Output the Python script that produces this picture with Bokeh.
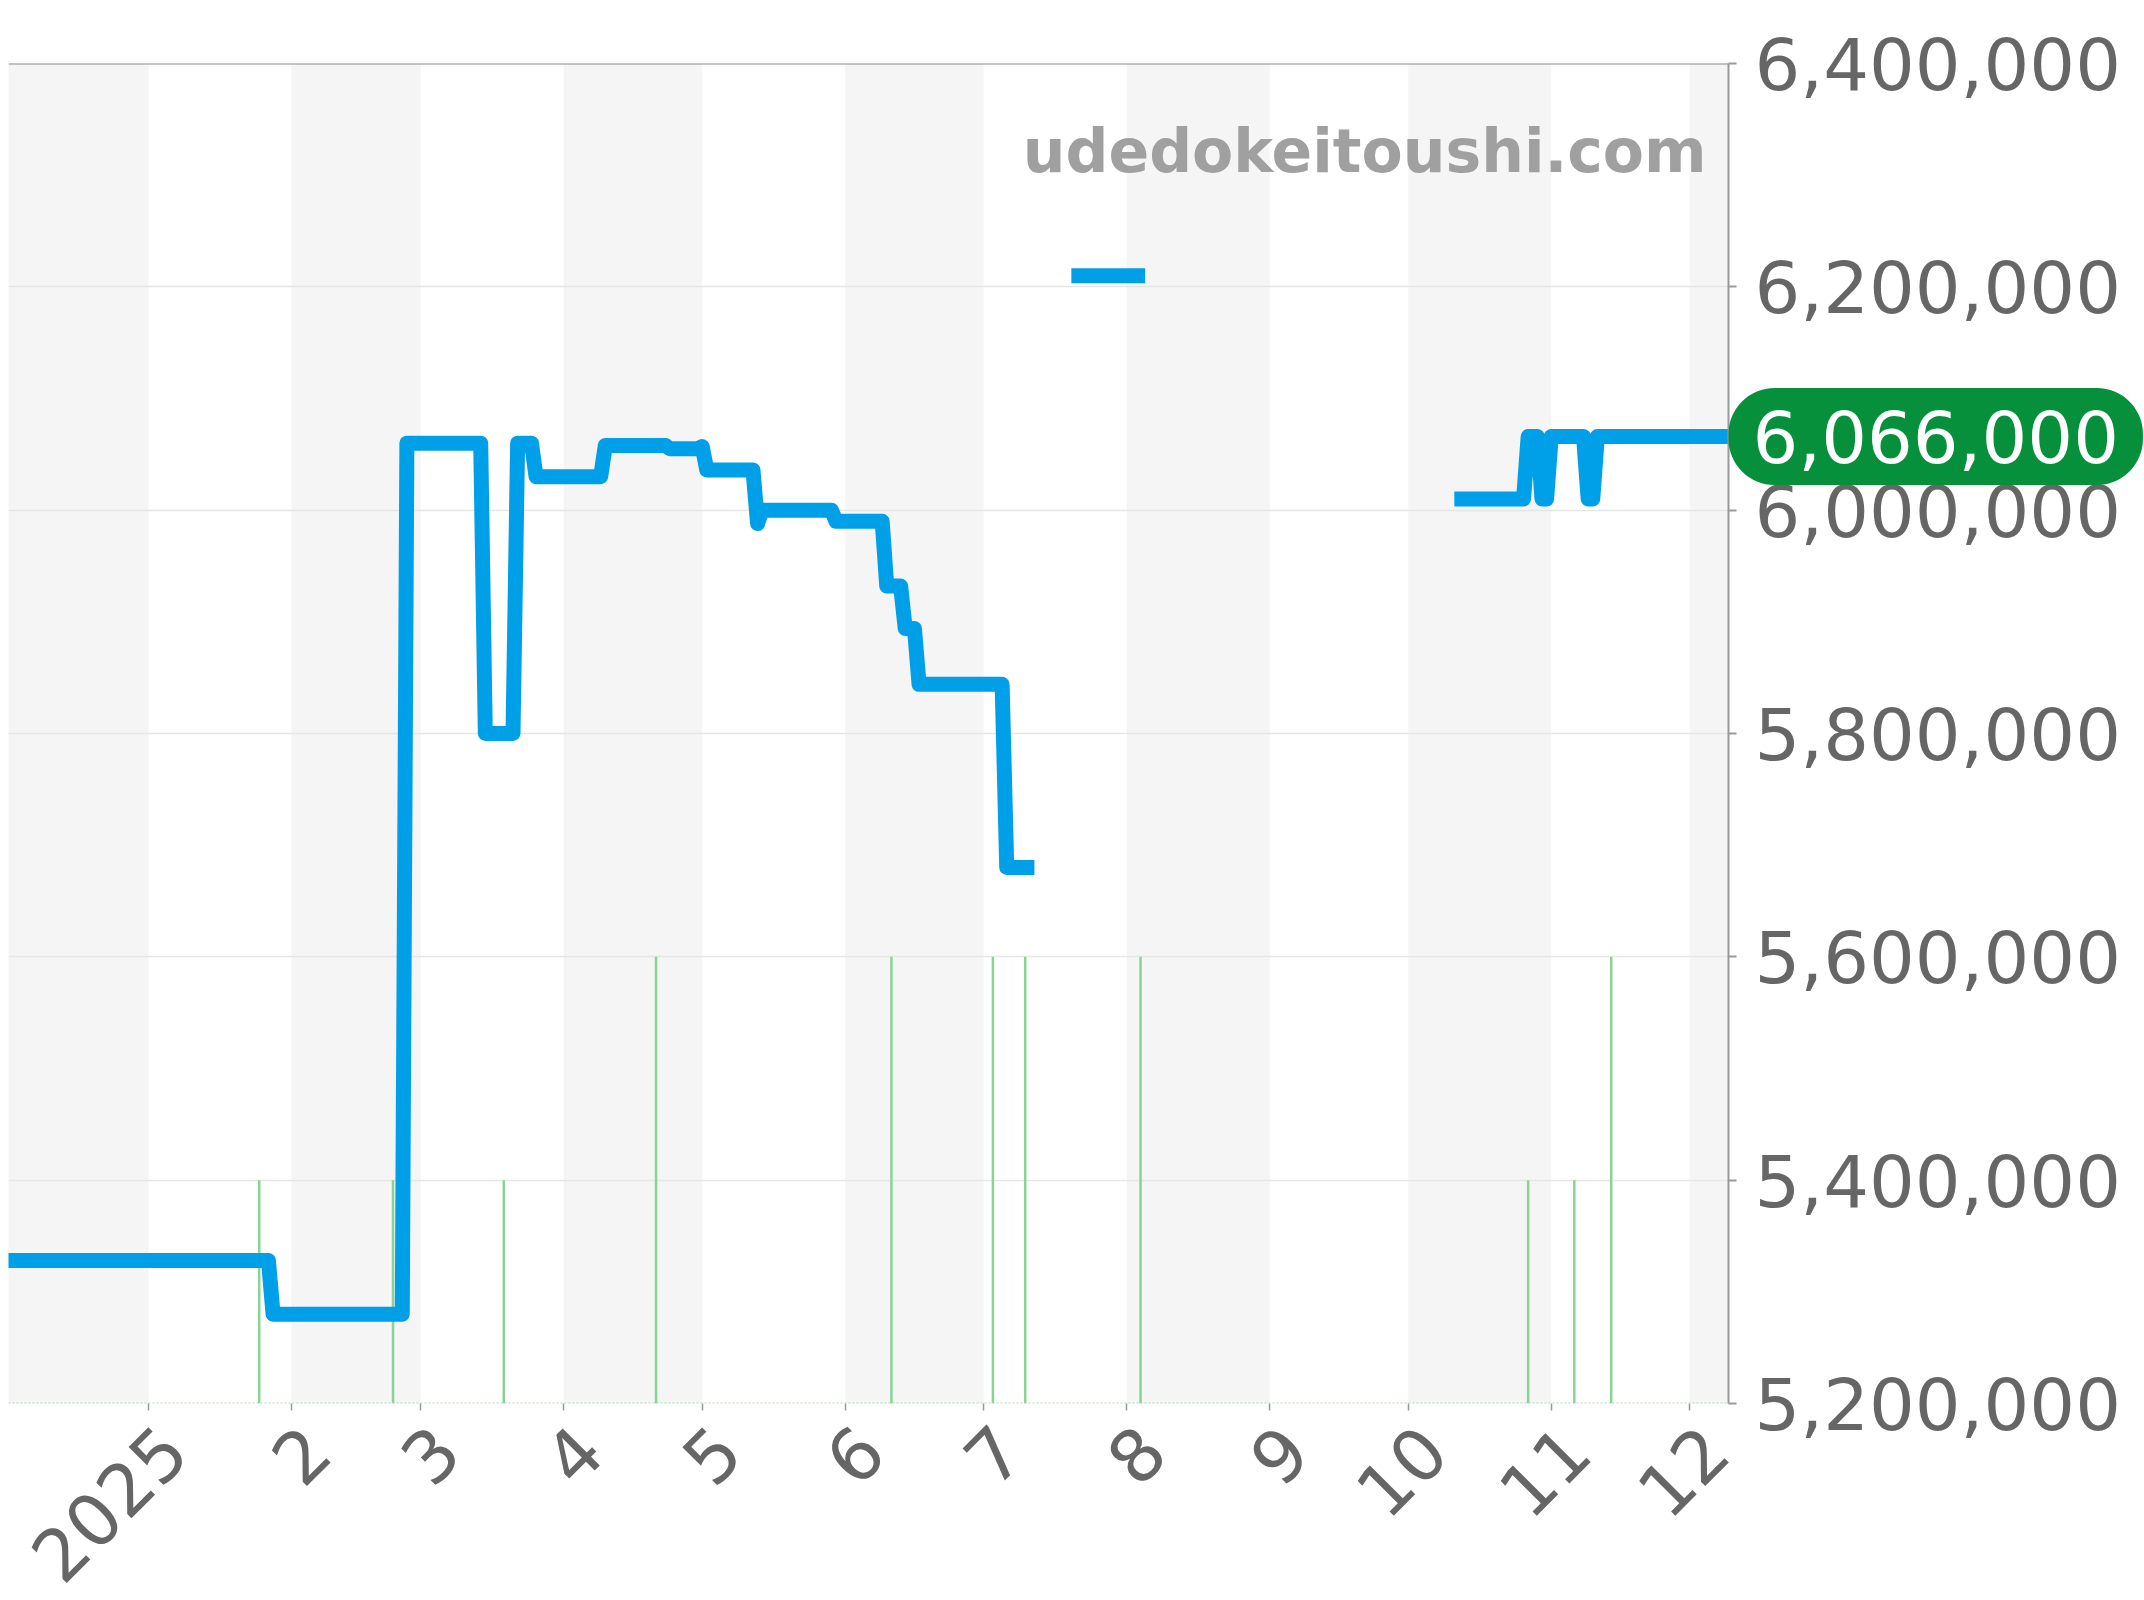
import math
import pandas as pd
from bokeh.plotting import figure
from bokeh.models import (Range1d, FixedTicker, NumeralTickFormatter, Span, Label,
                          ColumnDataSource, DatetimeAxis)
from bokeh.embed import file_html
from bokeh.resources import INLINE

# ---------------- data ----------------
price_dates = [
    "2024-12-01", "2025-01-27", "2025-01-28", "2025-02-25", "2025-02-26",
    "2025-03-14", "2025-03-15", "2025-03-21", "2025-03-22", "2025-03-25",
    "2025-03-26", "2025-04-09", "2025-04-10", "2025-04-23", "2025-04-24",
    "2025-04-30", "2025-05-01", "2025-05-02", "2025-05-12", "2025-05-13",
    "2025-05-14", "2025-05-29", "2025-05-30", "2025-06-09", "2025-06-10",
    "2025-06-13", "2025-06-14", "2025-06-16", "2025-06-17", "2025-07-05",
    "2025-07-06", "2025-07-12",
    "2025-07-16",
    "2025-07-20", "2025-08-05",
    "2025-09-01",
    "2025-10-11", "2025-10-26", "2025-10-27", "2025-10-29", "2025-10-30",
    "2025-10-31", "2025-11-01", "2025-11-08", "2025-11-09", "2025-11-10",
    "2025-11-11", "2025-12-10",
]
price_values = [
    5328000, 5328000, 5280000, 5280000, 6060000,
    6060000, 5800000, 5800000, 6060000, 6060000,
    6030000, 6030000, 6058000, 6058000, 6055000,
    6055000, 6057000, 6036000, 6036000, 5988000,
    6000000, 6000000, 5990000, 5990000, 5932000,
    5932000, 5894000, 5894000, 5844000, 5844000,
    5680000, 5680000,
    None,
    6210000, 6210000,
    None,
    6010000, 6010000, 6066000, 6066000, 6010000,
    6010000, 6066000, 6066000, 6010000, 6010000,
    6066000, 6066000,
]

volume_dates = ["2025-01-25", "2025-02-23", "2025-03-19", "2025-04-21", "2025-06-11",
                "2025-07-03", "2025-07-10", "2025-08-04", "2025-10-27", "2025-11-06",
                "2025-11-14"]
volume_counts = [1, 1, 1, 2, 2, 2, 2, 2, 1, 1, 2]

month_tick_dates = ["2025-01-01", "2025-02-01", "2025-03-01", "2025-04-01", "2025-05-01",
                    "2025-06-01", "2025-07-01", "2025-08-01", "2025-09-01", "2025-10-01",
                    "2025-11-01", "2025-12-01"]
month_tick_labels = ["2025", "2", "3", "4", "5", "6", "7", "8", "9", "10", "11", "12"]

y_ticks = [5200000, 5400000, 5600000, 5800000, 6000000, 6200000, 6400000]
watermark_text = "udedokeitoushi.com"

# ---------------- helpers ----------------
def ms(d):
    return pd.Timestamp(d).value / 1e6

x_start = pd.Timestamp("2024-12-01 16:00")
x_end = pd.Timestamp("2025-12-09 10:00")
y_min, y_max = y_ticks[0], y_ticks[-1]

FONT = "DejaVu Sans"
BLUE = "#00a0e9"
GREEN = "#88d396"
LABEL_GRAY = "#666666"
AXIS_GRAY = "#999999"

p = figure(
    frame_width=1720, frame_height=1340,
    x_axis_type="datetime", y_axis_location="right",
    x_range=Range1d(x_start, x_end), y_range=Range1d(y_min, y_max),
    output_backend="svg", toolbar_location=None, title=None,
    min_border_left=8, min_border_top=63, min_border_right=410, min_border_bottom=190,
    background_fill_color="white", border_fill_color="white",
)
p.outline_line_color = None

# alternating month bands
months = pd.date_range("2024-12-01", "2026-01-01", freq="MS")
band_left = list(months[:-1:2])
band_right = list(months[1::2])
p.quad(left=band_left, right=band_right, bottom=y_min, top=y_max,
       fill_color="#f5f5f5", line_color=None, level="underlay")

# grid
p.xgrid.grid_line_color = None
p.ygrid.grid_line_color = "#e6e6e6"
p.ygrid.grid_line_width = 1.5
p.ygrid.ticker = FixedTicker(ticks=y_ticks)

# volume lines on a secondary range
p.extra_y_ranges = {"vol": Range1d(0, 6)}
vdates = pd.to_datetime(volume_dates)
p.segment(x0=vdates, y0=[0] * len(vdates), x1=vdates, y1=volume_counts,
          y_range_name="vol", line_color=GREEN, line_width=2.5)

# baseline and top line
p.add_layout(Span(location=y_min, dimension="width", line_color="#a8dcb0",
                  line_width=2, line_dash="2 2"))
p.add_layout(Span(location=y_max, dimension="width", line_color="#8c8c8c",
                  line_width=2))

# price line
src = ColumnDataSource(dict(
    x=pd.to_datetime(price_dates),
    y=[float("nan") if v is None else v for v in price_values],
))
p.line("x", "y", source=src, line_width=15, line_color=BLUE,
       line_join="round", line_cap="butt")

# right price axis
yax = p.yaxis[0]
yax.ticker = FixedTicker(ticks=y_ticks)
yax.formatter = NumeralTickFormatter(format="0,0")
yax.axis_line_color = AXIS_GRAY
yax.axis_line_width = 2
yax.major_tick_line_color = AXIS_GRAY
yax.major_tick_line_width = 2
yax.major_tick_out = 8
yax.major_tick_in = 0
yax.minor_tick_line_color = None
yax.major_label_standoff = 18
yax.major_label_text_font = FONT
yax.major_label_text_font_size = "72px"
yax.major_label_text_color = LABEL_GRAY

# bottom axis: month-start tick marks only (as minor ticks, so no labels)
tick_ms = [ms(d) for d in month_tick_dates]
xax = p.xaxis[0]
xax.ticker = FixedTicker(ticks=[], minor_ticks=tick_ms)
xax.axis_line_color = None
xax.major_tick_line_color = None
xax.minor_tick_line_color = AXIS_GRAY
xax.minor_tick_line_width = 1.5
xax.minor_tick_out = 7
xax.minor_tick_in = 0
xax.major_tick_out = 0
xax.major_tick_in = 0
xax.major_label_standoff = 0

# bottom axis: rotated month labels (hanging style, nudged right of each tick)
label_nudge_ms = 5.5 * 86400000
lab_ms = [t + label_nudge_ms for t in tick_ms]
lab_axis = DatetimeAxis(
    ticker=FixedTicker(ticks=lab_ms),
    major_label_overrides={t: lbl for t, lbl in zip(lab_ms, month_tick_labels)},
    axis_line_color=None, major_tick_line_color=None, minor_tick_line_color=None,
    major_tick_out=0, major_tick_in=0,
    major_label_orientation=math.pi / 4, major_label_standoff=28,
    major_label_text_font=FONT, major_label_text_font_size="72px",
    major_label_text_color=LABEL_GRAY,
)
p.add_layout(lab_axis, "below")

# watermark
p.add_layout(Label(x=ms("2025-12-04 16:00"), y=6322000, text=watermark_text,
                   text_align="right", text_baseline="alphabetic",
                   text_font=FONT, text_font_style="bold", text_font_size="60px",
                   text_color="#a0a0a0"))

# current price badge (in the right panel so it is not clipped to the frame)
last_val = [v for v in price_values if v is not None][-1]
p.add_layout(Label(x=ms(x_end), y=last_val, text=f"{last_val:,}",
                   text_align="left", text_baseline="middle",
                   text_font=FONT, text_font_size="72px", text_color="white",
                   background_fill_color="#07903b", border_radius=46,
                   padding=(24, 22)), "right")

open("out.html", "w").write(file_html(p, INLINE))
